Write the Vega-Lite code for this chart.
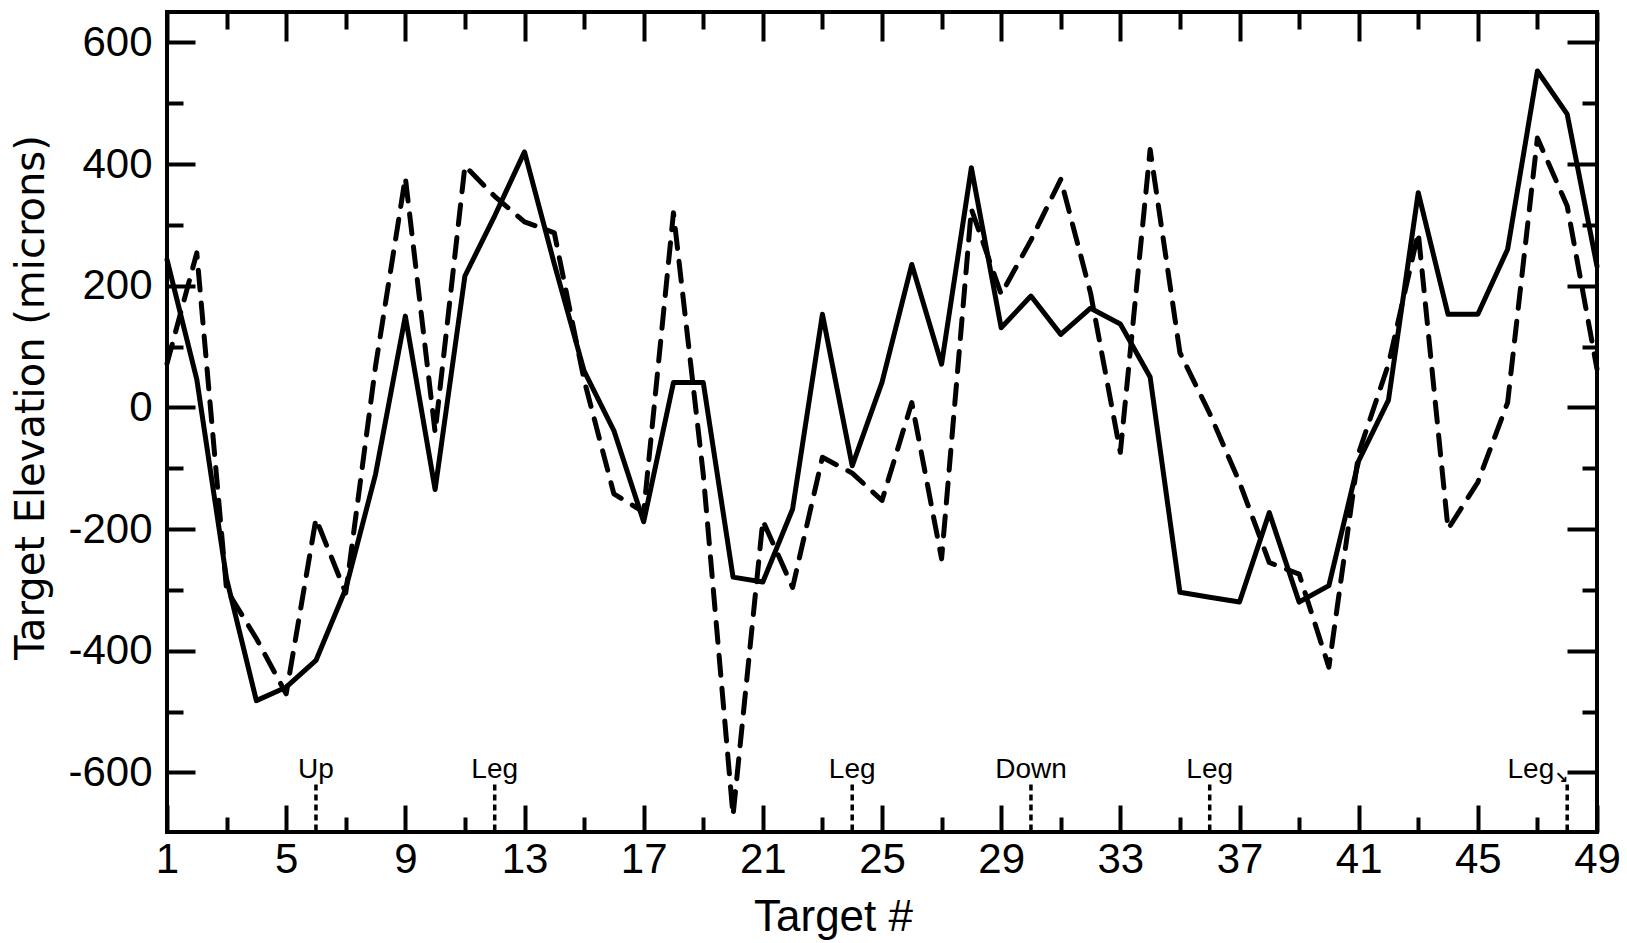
{
  "$schema": "https://vega.github.io/schema/vega-lite/v6.json",
  "width": 1430,
  "height": 820,
  "autosize": {"type": "none"},
  "padding": {"left": 167, "top": 12, "right": 30, "bottom": 111},
  "background": "white",
  "config": {
    "view": {"stroke": "black", "strokeWidth": 4},
    "font": "Liberation Sans",
    "axis": {"domain": false, "grid": false, "tickColor": "black", "tickWidth": 4, "labelColor": "black", "titleColor": "black", "labelOverlap": false, "labelFlush": false, "titleFontWeight": "normal"}
  },
  "datasets": {
    "elev": [
      {"target": 1, "solid": 243, "dashed": 72},
      {"target": 2, "solid": 46, "dashed": 254},
      {"target": 3, "solid": -282, "dashed": -300},
      {"target": 4, "solid": -482, "dashed": -380},
      {"target": 5, "solid": -460, "dashed": -471},
      {"target": 6, "solid": -416, "dashed": -183},
      {"target": 7, "solid": -298, "dashed": -305},
      {"target": 8, "solid": -110, "dashed": 68},
      {"target": 9, "solid": 150, "dashed": 378},
      {"target": 10, "solid": -135, "dashed": -41},
      {"target": 11, "solid": 216, "dashed": 397},
      {"target": 12, "solid": 315, "dashed": 347},
      {"target": 13, "solid": 420, "dashed": 305},
      {"target": 14, "solid": 236, "dashed": 287},
      {"target": 15, "solid": 60, "dashed": 45},
      {"target": 16, "solid": -38, "dashed": -142},
      {"target": 17, "solid": -188, "dashed": -172},
      {"target": 18, "solid": 41, "dashed": 320},
      {"target": 19, "solid": 41, "dashed": -110},
      {"target": 20, "solid": -279, "dashed": -671},
      {"target": 21, "solid": -287, "dashed": -186},
      {"target": 22, "solid": -167, "dashed": -296},
      {"target": 23, "solid": 153, "dashed": -82},
      {"target": 24, "solid": -96, "dashed": -108},
      {"target": 25, "solid": 41, "dashed": -153},
      {"target": 26, "solid": 235, "dashed": 8},
      {"target": 27, "solid": 71, "dashed": -249},
      {"target": 28, "solid": 394, "dashed": 326},
      {"target": 29, "solid": 131, "dashed": 186},
      {"target": 30, "solid": 183, "dashed": 275},
      {"target": 31, "solid": 120, "dashed": 375},
      {"target": 32, "solid": 163, "dashed": 188},
      {"target": 33, "solid": 137, "dashed": -74},
      {"target": 34, "solid": 50, "dashed": 424},
      {"target": 35, "solid": -304, "dashed": 90},
      {"target": 36, "solid": -312, "dashed": -10},
      {"target": 37, "solid": -320, "dashed": -123},
      {"target": 38, "solid": -173, "dashed": -255},
      {"target": 39, "solid": -320, "dashed": -274},
      {"target": 40, "solid": -293, "dashed": -427},
      {"target": 41, "solid": -88, "dashed": -75},
      {"target": 42, "solid": 12, "dashed": 71},
      {"target": 43, "solid": 353, "dashed": 287},
      {"target": 44, "solid": 153, "dashed": -200},
      {"target": 45, "solid": 153, "dashed": -123},
      {"target": 46, "solid": 260, "dashed": 8},
      {"target": 47, "solid": 553, "dashed": 443},
      {"target": 48, "solid": 482, "dashed": 331},
      {"target": 49, "solid": 232, "dashed": 63}
    ],
    "notes": [
      {"target": 6, "label": "Up", "top": -620, "bottom": -698, "texty": -610, "side": "center"},
      {"target": 12, "label": "Leg", "top": -620, "bottom": -698, "texty": -610, "side": "center"},
      {"target": 24, "label": "Leg", "top": -620, "bottom": -698, "texty": -610, "side": "center"},
      {"target": 30, "label": "Down", "top": -620, "bottom": -698, "texty": -610, "side": "center"},
      {"target": 36, "label": "Leg", "top": -620, "bottom": -698, "texty": -610, "side": "center"},
      {"target": 48, "label": "Leg", "top": -620, "bottom": -698, "texty": -610, "side": "right"}
    ]
  },
  "layer": [
    {
      "data": {"name": "elev"},
      "mark": {"type": "line", "color": "black", "strokeWidth": 5, "strokeJoin": "round", "strokeCap": "round"},
      "encoding": {
        "x": {
          "field": "target", "type": "quantitative",
          "scale": {"domain": [1, 49], "nice": false, "zero": false},
          "axis": {
            "orient": "bottom",
            "values": [1, 3, 5, 7, 9, 11, 13, 15, 17, 19, 21, 23, 25, 27, 29, 31, 33, 35, 37, 39, 41, 43, 45, 47, 49],
            "labelExpr": "(datum.value - 1) % 4 === 0 ? '' + datum.value : ''",
            "tickSize": {"condition": {"test": "(datum.value - 1) % 4 === 0", "value": -27}, "value": -15},
            "labelFontSize": 42,
            "labelPadding": 34,
            "title": "Target #",
            "titleFontSize": 44,
            "titleX": 666,
            "titleY": 98,
            "titleBaseline": "alphabetic",
            "titleAlign": "center"
          }
        },
        "y": {
          "field": "solid", "type": "quantitative",
          "scale": {"domain": [-698, 650], "nice": false, "zero": false},
          "axis": {
            "orient": "left",
            "values": [-600, -500, -400, -300, -200, -100, 0, 100, 200, 300, 400, 500, 600],
            "labelExpr": "datum.value % 200 === 0 ? '' + datum.value : ''",
            "tickSize": {"condition": {"test": "datum.value % 200 === 0", "value": -28}, "value": -16},
            "labelFontSize": 42,
            "labelPadding": 43,
            "title": "Target Elevation (microns)",
            "titleFont": "DejaVu Sans",
            "titleFontSize": 40,
            "titleAngle": -90,
            "titleX": -124,
            "titleY": 385,
            "titleBaseline": "alphabetic",
            "titleAlign": "center"
          }
        }
      }
    },
    {
      "data": {"name": "elev"},
      "mark": {"type": "line", "color": "black", "strokeWidth": 5, "strokeDash": [20, 13], "strokeJoin": "round", "strokeCap": "round"},
      "encoding": {
        "x": {
          "field": "target", "type": "quantitative",
          "scale": {"domain": [1, 49], "nice": false, "zero": false},
          "axis": {
            "orient": "top",
            "values": [1, 3, 5, 7, 9, 11, 13, 15, 17, 19, 21, 23, 25, 27, 29, 31, 33, 35, 37, 39, 41, 43, 45, 47, 49],
            "labels": false,
            "title": null,
            "tickSize": {"condition": {"test": "(datum.value - 1) % 4 === 0", "value": -29}, "value": -17}
          }
        },
        "y": {
          "field": "dashed", "type": "quantitative",
          "scale": {"domain": [-698, 650], "nice": false, "zero": false},
          "axis": {
            "orient": "right",
            "values": [-600, -500, -400, -300, -200, -100, 0, 100, 200, 300, 400, 500, 600],
            "labels": false,
            "title": null,
            "tickSize": {"condition": {"test": "datum.value % 200 === 0", "value": -30}, "value": -15}
          }
        }
      }
    },
    {
      "data": {"name": "notes"},
      "mark": {"type": "rule", "color": "black", "strokeWidth": 3.5, "strokeDash": [6, 4]},
      "encoding": {
        "x": {"field": "target", "type": "quantitative", "axis": null},
        "y": {"field": "top", "type": "quantitative", "axis": null},
        "y2": {"field": "bottom"}
      }
    },
    {
      "data": {"name": "notes"},
      "transform": [{"filter": "datum.side === 'center'"}],
      "mark": {"type": "text", "color": "black", "fontSize": 28, "baseline": "alphabetic", "align": "center"},
      "encoding": {
        "x": {"field": "target", "type": "quantitative", "axis": null},
        "y": {"field": "texty", "type": "quantitative", "axis": null},
        "text": {"field": "label"}
      }
    },
    {
      "data": {"name": "notes"},
      "transform": [{"filter": "datum.side === 'right'"}],
      "mark": {"type": "text", "color": "black", "fontSize": 28, "baseline": "alphabetic", "align": "right", "dx": -13},
      "encoding": {
        "x": {"field": "target", "type": "quantitative", "axis": null},
        "y": {"field": "texty", "type": "quantitative", "axis": null},
        "text": {"field": "label"}
      }
    },
    {
      "data": {"name": "notes"},
      "transform": [{"filter": "datum.side === 'right'"}],
      "mark": {"type": "text", "color": "black", "fontSize": 16, "font": "DejaVu Sans", "fontWeight": "bold", "baseline": "alphabetic", "align": "right", "dx": 1, "dy": 5, "text": "↘"},
      "encoding": {
        "x": {"field": "target", "type": "quantitative", "axis": null},
        "y": {"field": "texty", "type": "quantitative", "axis": null}
      }
    }
  ],
  "resolve": {"axis": {"x": "independent", "y": "independent"}}
}
